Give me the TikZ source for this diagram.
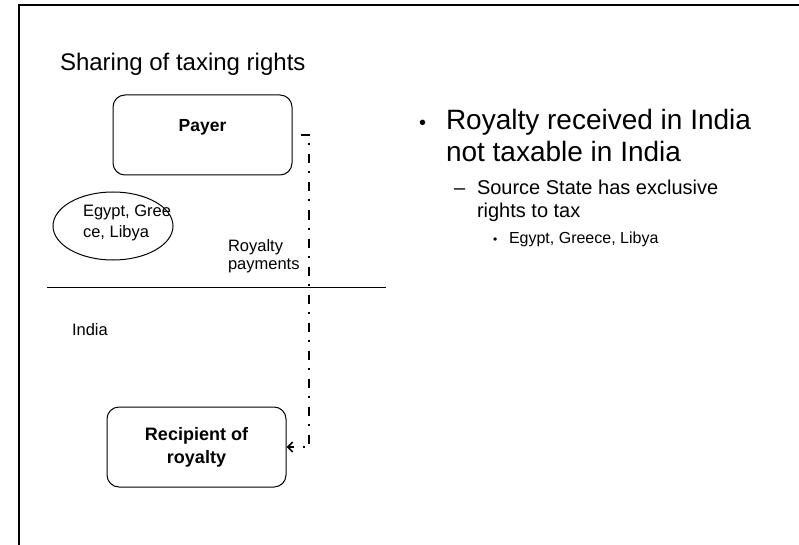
\documentclass[tikz,border=0pt]{standalone}
\usepackage{fontspec}
\setmainfont{Liberation Sans}
\usetikzlibrary{shapes.geometric,arrows.meta}
\tikzset{
  roundbox/.style={draw, line width=1pt, rounded corners=12pt, minimum width=179pt, minimum height=80pt, inner sep=0pt},
  plain/.style={inner sep=0pt, outer sep=0pt, align=left},
  flow/.style={line width=2pt, dash pattern=on 9pt off 8pt on 2pt off 9pt, -{Straight Barb[length=5pt,width=10pt,line width=1.6pt]}},
}
\newcommand{\fs}[2]{\fontsize{#1}{#2}\selectfont}
\begin{document}
\begin{tikzpicture}[x=1pt,y=-1pt]
\useasboundingbox (0,0) rectangle (799,545);
% slide frame
\draw[line width=2pt] (19,545) -- (19,5) -- (799,5);

% title
\node[plain, anchor=base west, font=\fs{24}{28}] (title) at (60,71) {Sharing of taxing rights};

% payer (source state side)
\node[roundbox, label={[font=\fs{17.5}{21}\bfseries, yshift=8pt]center:Payer}] (payer) at (202.5,135) {};

% country ellipse (base anchor sits on the last line)
\node[draw, line width=1pt, ellipse, minimum width=120pt, minimum height=68pt, inner sep=0pt] (src) at (113,226) {};
\node[plain, anchor=base west, font=\fs{16.5}{21}] (srctext) at (83,237) {Egypt, Gree\\ce, Libya};

% border between the two states
\coordinate (bl) at (47,287);
\coordinate (br) at (386,287);
\draw[line width=1pt] (bl) -- (br);

\node[plain, anchor=base west, font=\fs{16.5}{18}] (pay) at (228,269) {Royalty\\payments};
\node[plain, anchor=base west, font=\fs{16.5}{19}] (india) at (72,335) {India};

% recipient
\node[roundbox, align=center, font=\fs{18}{23}\bfseries] (recv) at (196.5,447) {Recipient of\\royalty};

% royalty flow
\coordinate (t1) at (309,135);
\coordinate (t2) at (309,447);
\draw[flow] ([xshift=8pt]payer.east) -- (t1) -- (t2) -- (recv.east);

% bullet text
\node[plain, anchor=base west, font=\fs{20}{32}] (b1) at (419,130) {•};
\node[plain, anchor=base west, font=\fs{28}{32}] (t1text) at (446,162) {Royalty received in India\\not taxable in India};
\node[plain, anchor=base west, font=\fs{20}{23}] (b2) at (454,195) {–};
\node[plain, anchor=base west, font=\fs{20}{23}] (t2text) at (477,218) {Source State has exclusive\\rights to tax};
\node[plain, anchor=base west, font=\fs{12}{19}] (b3) at (493,243) {•};
\node[plain, anchor=base west, font=\fs{16}{19}] (t3text) at (509,243) {Egypt, Greece, Libya};
\end{tikzpicture}
\end{document}
